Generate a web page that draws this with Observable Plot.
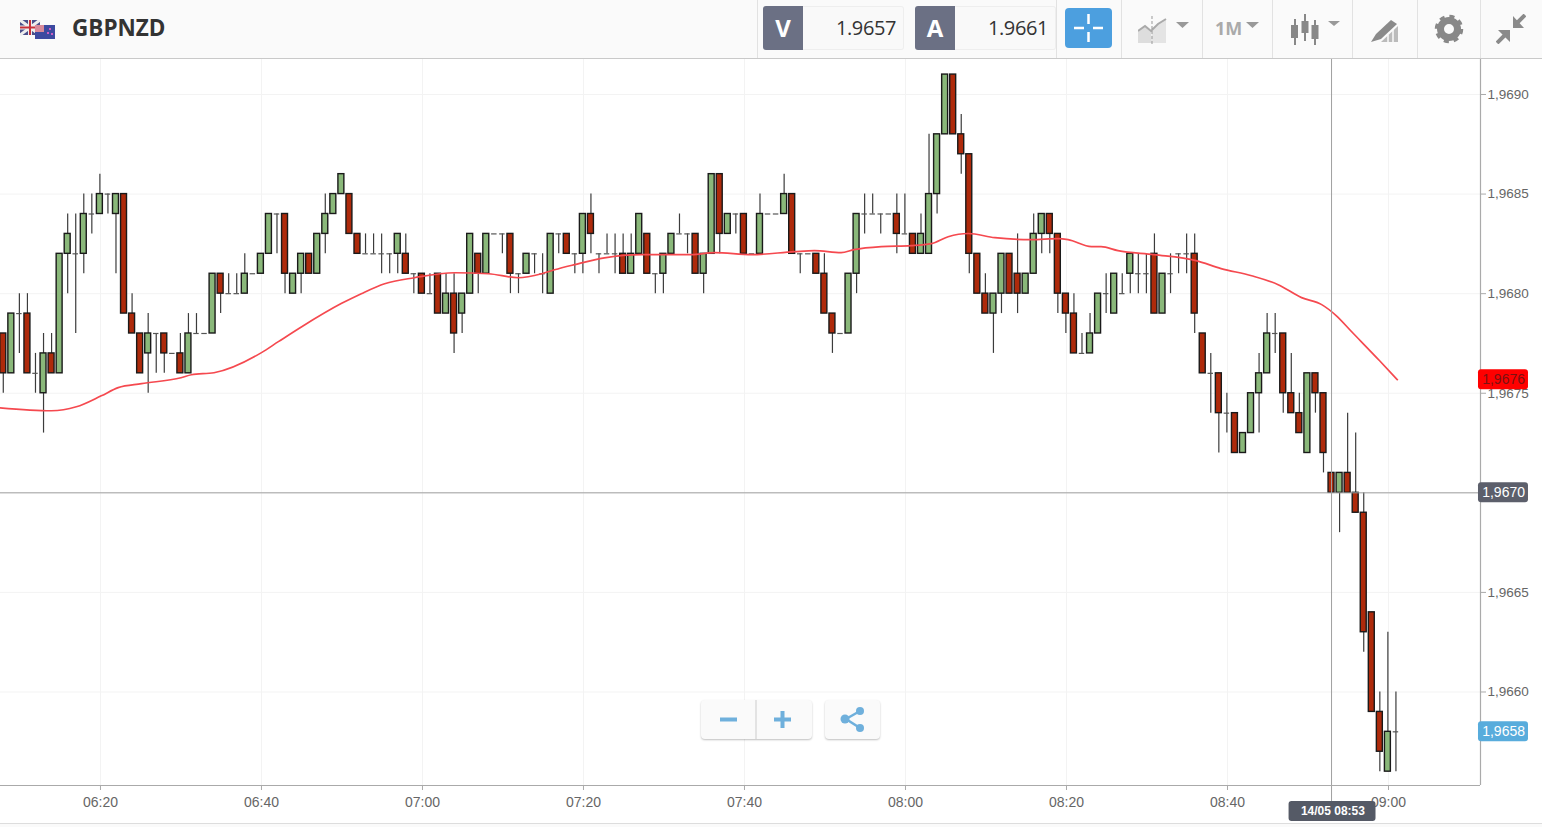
<!DOCTYPE html>
<html>
<head>
<meta charset="utf-8">
<title>GBPNZD</title>
<script src="https://cdn.jsdelivr.net/npm/d3@7"></script>
<script src="https://cdn.jsdelivr.net/npm/@observablehq/plot@0.6"></script>
<style>
html,body{margin:0;padding:0;background:#fff;overflow:hidden;width:1542px;height:827px;position:relative;font-family:"Open Sans",sans-serif}
#head{position:relative;height:58px;background:#fafafa;border-bottom:1px solid #c9c9c9;box-sizing:content-box}
#head>*{position:absolute}
#chart svg{display:block}
.sym{left:72px;top:12px;font-size:22.5px;font-weight:700;color:#333;line-height:32px}
.tag{top:6px;width:40px;height:44px;background:#6b7084;color:#fff;font-weight:700;font-size:24px;line-height:44px;text-align:center;border-radius:3px 0 0 3px}
.val{top:6px;width:100px;height:42px;background:#f9f9f9;border:1px solid #eee;border-left:0;box-sizing:content-box;color:#333;font-size:20px;letter-spacing:-.4px;line-height:42px;text-align:right;border-radius:0 3px 3px 0}
.val span{padding-right:7px}
.div{top:0;width:1px;height:58px;background:#e2e2e2}
.btn{top:8px;left:1065px;width:47px;height:40px;background:#4c9fdf;border-radius:4px}
.tf{left:1215px;top:14px;font-size:18px;font-weight:700;color:#aaa;line-height:28px}
.ovl{position:absolute;top:700px;height:39px;background:#fafafa;border-radius:4px;box-shadow:0 1px 2px rgba(0,0,0,.25)}
#foot{position:absolute;left:0;top:823px;width:1542px;height:4px;background:#fafafa;border-top:1px solid #ddd;box-sizing:border-box}
</style>
</head>
<body>
<div id="head">
  <svg style="left:20px;top:20px" width="36" height="19" viewBox="0 0 36 19">
    <rect x="0" y="0" width="20" height="15" fill="#4a4f8a"/>
    <path d="M0 0L20 15M20 0L0 15" stroke="#eee" stroke-width="3"/>
    <path d="M10 0V15M0 7.5H20" stroke="#eee" stroke-width="4"/>
    <path d="M10 0V15M0 7.5H20" stroke="#c8303a" stroke-width="2"/>
    <rect x="15" y="5" width="20" height="14" fill="#3d4aa0"/>
    <rect x="15" y="5" width="9" height="7" fill="#d98a9a"/>
    <circle cx="30" cy="9" r="1" fill="#f6c"/><circle cx="28" cy="13" r="1" fill="#f6c"/><circle cx="32" cy="14" r="1" fill="#f6c"/>
  </svg>
  <div class="sym">GBPNZD</div>
  <div class="div" style="left:757px"></div>
  <div class="tag" style="left:763px">V</div>
  <div class="val" style="left:803px"><span>1.9657</span></div>
  <div class="tag" style="left:915px">A</div>
  <div class="val" style="left:955px"><span>1.9661</span></div>
  <div class="div" style="left:1056px"></div>
  <div class="btn"><svg width="47" height="40"><path d="M9 20H19M28 20H38M23.5 6V16M23.5 24V34" stroke="#fff" stroke-width="2.5"/></svg></div>
  <div class="div" style="left:1121px"></div>
  <svg style="left:1138px;top:16px" width="52" height="28"><path d="M0 27V15L7 10L13 15L14 27Z" fill="#ddd"/><path d="M14 27V12L28 3V27Z" fill="#e4e4e4"/><path d="M0 15L7 10L13 15L20 8L28 3" fill="none" stroke="#aaa" stroke-width="2"/><path d="M14 0V28" stroke="#999" stroke-dasharray="3 2"/><path d="M38 6H51L44.500 12Z" fill="#999"/></svg>
  <div class="div" style="left:1202px"></div>
  <div class="tf">1M</div>
  <svg style="left:1246px;top:22px" width="14" height="7"><path d="M0 0H13L6.500 6Z" fill="#999"/></svg>
  <div class="div" style="left:1272px"></div>
  <svg style="left:1289px;top:14px" width="52" height="32"><path d="M6 5V31M16 0V27M26 6V31" stroke="#888" stroke-width="2"/><rect x="2" y="11" width="7" height="13" fill="#888"/><rect x="12.500" y="7" width="7" height="12" fill="#888"/><rect x="22.500" y="11" width="7" height="14" fill="#888"/><path d="M39 7H51L45 12Z" fill="#999"/></svg>
  <div class="div" style="left:1352px"></div>
  <svg style="left:1371px;top:18px" width="28" height="26"><path d="M0 24L5 16L20 2L26 6L10 21Z" fill="#8a8a8a"/><path d="M10 24L27 8V24Z" fill="#bbb"/><path d="M17 24V17M22 24V12" stroke="#fafafa" stroke-width="1.500"/></svg>
  <div class="div" style="left:1417px"></div>
  <svg style="left:1434px;top:14px" width="30" height="30"><circle cx="15" cy="15" r="8.500" fill="none" stroke="#888" stroke-width="7"/><circle cx="15" cy="15" r="12.500" fill="none" stroke="#888" stroke-width="3.500" stroke-dasharray="5 4.820"/></svg>
  <div class="div" style="left:1480px"></div>
  <svg style="left:1496px;top:14px" width="30" height="30"><path d="M29 1L19 11M1 29L11 19" stroke="#8a8a8a" stroke-width="4"/><path d="M17 2V14H28ZM14 28V16H2Z" fill="#8a8a8a"/></svg>
</div>
<div id="chart"></div>
<div class="ovl" style="left:701px;width:111px">
  <svg width="111" height="39"><rect x="19" y="17.500" width="17" height="4" fill="#6fb0dc"/><rect x="73" y="17.500" width="17" height="4" fill="#6fb0dc"/><rect x="79.500" y="11" width="4" height="17" fill="#6fb0dc"/><path d="M55 0V39" stroke="#ccc"/></svg>
</div>
<div class="ovl" style="left:825px;width:55px">
  <svg width="55" height="39"><path d="M35 11L21 19L35 28" fill="none" stroke="#6fb0dc" stroke-width="2.500"/><circle cx="20" cy="19" r="4.500" fill="#6fb0dc"/><circle cx="35" cy="11" r="4" fill="#6fb0dc"/><circle cx="35" cy="28" r="4" fill="#6fb0dc"/></svg>
</div>
<div id="foot"></div>
<script>
// Prices are given in pips above this base price
const basePrice = 1.96;
const startTime = Date.UTC(2019, 4, 14, 6, 8);

const opens = [
78,76,79,79,76,75,77,76,82,82,
82,84,84,85,84,85,79,78,77,78,
78,77,77,76,78,78,78,81,80,80,
80,81,81,82,84,84,80,81,82,81,
83,84,85,85,83,82,82,82,82,82,
82,81,81,80,81,79,80,79,80,82,
81,83,83,83,81,81,82,81,80,83,
83,82,82,84,82,82,82,82,81,82,
83,81,81,82,83,83,83,81,82,86,
83,84,84,82,82,84,84,84,85,82,
82,82,81,79,78,78,81,84,84,84,
84,84,83,83,82,82,85,88,91,88,
87,82,80,79,80,82,81,80,81,83,
84,83,80,79,77,77,78,80,79,80,
81,81,81,82,79,81,82,82,82,78,
76,76,74,74,72,73,75,76,78,78,
75,74,72,76,75,71,70,71,70,69,
64,59,56,58];
const highs = [
78,79,80,80,77,78,78,82,84,84,
85,85,86,85,85,85,80,78,79,78,
78,77,78,79,79,78,81,81,81,81,
82,81,82,84,84,84,81,82,82,83,
85,85,86,85,83,83,83,83,82,83,
83,81,81,81,81,81,81,80,83,82,
83,83,83,83,81,82,82,82,83,83,
83,82,84,85,82,83,83,83,83,84,
83,81,82,83,84,83,83,82,86,86,
84,84,84,82,85,84,84,86,85,82,
82,82,82,79,78,81,84,85,85,84,
84,85,85,83,84,88,88,91,91,89,
87,82,81,80,82,82,83,81,84,84,
84,83,80,80,78,79,80,81,81,81,
82,82,82,83,81,82,82,83,83,78,
77,76,75,74,73,75,77,79,79,78,
77,75,76,76,75,71,71,74,73,70,
64,60,63,60];
const lows = [
75,76,77,76,75,73,76,76,80,78,
81,83,84,84,81,79,78,76,75,76,
76,77,76,76,78,78,78,79,80,80,
80,81,81,82,82,80,80,80,81,81,
82,84,85,83,82,82,82,81,81,81,
81,80,80,80,79,79,77,78,80,80,
81,83,82,80,80,81,81,80,80,82,
82,81,81,82,81,82,81,81,81,82,
81,80,80,82,83,82,81,80,82,82,
83,83,82,82,82,84,84,84,82,81,
82,81,79,77,78,78,80,83,84,83,
84,82,83,82,82,82,84,88,88,86,
81,80,79,77,79,80,79,80,81,82,
82,79,78,77,77,77,78,79,79,80,
80,80,80,79,79,80,81,81,78,76,
74,72,73,72,72,73,73,76,77,74,
74,73,72,74,71,70,68,70,69,62,
59,56,56,56];
const closes = [
76,79,79,76,76,77,76,82,83,82,
84,84,85,85,85,79,78,76,78,78,
77,77,76,78,78,78,81,80,80,80,
81,81,82,84,84,81,81,82,81,83,
84,85,86,83,82,82,82,82,82,83,
81,81,80,80,79,80,78,80,83,81,
83,83,83,81,81,82,82,81,83,83,
82,82,84,83,82,82,82,81,82,84,
81,81,82,83,83,83,81,82,86,83,
84,84,82,82,84,84,84,85,82,82,
82,81,79,78,78,81,84,84,84,84,
84,83,83,82,83,85,88,91,88,87,
82,80,79,80,82,80,80,81,83,84,
83,80,79,77,77,78,80,80,81,80,
82,81,81,79,81,81,82,82,79,76,
76,74,74,72,73,75,76,78,78,75,
74,73,76,75,72,70,71,70,69,63,
59,57,58,58];

// Moving average, minutes after the first candle
const maMinutes = [-0.5,5.9,9,12.1,14.2,17.1,22,23.3,26.1,32,34.1,37,41.9,44.4,47.3,51,56,60.2,63.9,66.8,68.4,70.9,74.6,79.2,85.4,88.3,92.9,98.2,100.7,104,105.6,109,112.7,115.2,117.3,119.8,123.1,127.6,131,132.2,135.1,136.3,138.4,142.9,148.1,151.2,155,158.3,161.2,163.7,165.5,167.4,170.9,173.1];
const maPips = [74.27,74.12,74.32,74.87,75.28,75.48,75.78,75.93,76.03,77.04,77.59,78.34,79.5,80,80.5,80.8,81.05,81,80.8,81,81.2,81.46,81.8,81.96,81.96,82.06,81.96,82.11,82.16,82.06,82.21,82.36,82.41,82.51,82.86,83.02,82.81,82.71,82.76,82.71,82.36,82.36,82.16,81.96,81.66,81.26,80.9,80.45,79.8,79.45,78.9,78.1,76.63,75.68];

const timeTicks = [12,32,52,72,92,112,132,152,172];
const priceTicks = [60,65,70,75,80,85,90];
const tagPips = [75.68,70,58];
const tagLabels = ["1,9676","1,9670","1,9658"];
const tagFills = ["#ff0000","#5c5f6b","#58acdc"];
const tagInks = ["#7a1212","#ffffff","#ffffff"];
const crossMinute = 165;
const crossPips = 70;
const crossLabel = "14/05 08:53";

const price = p => basePrice + p / 10000;
const at = m => new Date(startTime + m * 60000);
const halfBody = 0.37, halfTick = 0.34;
const candleShift = -0.6;

const candles = opens.map((o, i) => ({t: i, o: price(o), h: price(highs[i]), l: price(lows[i]), c: price(closes[i]), up: closes[i] > o, flat: closes[i] === o}));
const bodies = candles.filter(d => !d.flat);
const flats = candles.filter(d => d.flat);
const ma = maMinutes.map((m, i) => ({x: at(m), y: price(maPips[i])}));
const tags = tagPips.map((p, i) => ({p: price(p), label: tagLabels[i], fill: tagFills[i], ink: tagInks[i]}));

const xDomain = [at(-0.42), at(183.43)];
const yDomain = [1.9655305, 1.9691757];
const fontFamily = '"Liberation Sans", Arial, sans-serif';

const chart = Plot.plot({
  width: 1542, height: 768,
  marginLeft: 0, marginRight: 62, marginTop: 0, marginBottom: 42,
  style: {fontFamily, background: "transparent", overflow: "visible"},
  x: {type: "utc", domain: xDomain},
  y: {domain: yDomain},
  marks: [
    Plot.ruleX(timeTicks.map(at), {stroke: "#f3f3f3"}),
    Plot.ruleY(priceTicks.map(price), {stroke: "#f3f3f3"}),
    Plot.ruleX(candles, {x: d => at(d.t), y1: "l", y2: "h", stroke: "#3c3c3c", strokeWidth: 1.2, dx: candleShift}),
    Plot.ruleY(flats, {y: "c", x1: d => at(d.t - halfTick), x2: d => at(d.t + halfTick), stroke: "#555", strokeWidth: 1.2, dx: candleShift}),
    Plot.rect(bodies, {
      x1: d => at(d.t - halfBody), x2: d => at(d.t + halfBody),
      y1: "o", y2: "c",
      fill: d => d.up ? "#8ab87a" : "#ae2a0b",
      stroke: "#1a1a1a", strokeWidth: 1.4, dx: candleShift
    }),
    Plot.line(ma, {x: "x", y: "y", stroke: "#f5494f", strokeWidth: 1.7, curve: "monotone-x"}),
    Plot.ruleY([price(crossPips)], {stroke: "#a0a0a0"}),
    Plot.ruleX([at(crossMinute)], {y1: yDomain[1], y2: price(54), stroke: "#a0a0a0", dx: -0.6}),
    Plot.ruleX([xDomain[1]], {stroke: "#aaa", strokeWidth: 1.2}),
    Plot.ruleY([yDomain[0]], {stroke: "#aaa", strokeWidth: 1.2}),
    Plot.axisX({ticks: timeTicks.map(at), tickFormat: d3.utcFormat("%H:%M"), tickSize: 5, tickPadding: 7, fontSize: 14, stroke: "#aaa", fill: "#666", label: null}),
    Plot.axisY({anchor: "right", ticks: priceTicks.filter(p => p !== crossPips).map(price), tickFormat: d => d.toFixed(4).replace(".", ","), tickSize: 5, tickPadding: 2, fontSize: 13.5, stroke: "#aaa", fill: "#666", label: null}),
    Plot.rect(tags, {x1: at(183.18), x2: at(189.39), y1: d => d.p - 0.00005, y2: d => d.p + 0.00005, fill: "fill", rx: 3}),
    Plot.text(tags, {x: at(186.3), y: "p", text: "label", fill: "ink", fontSize: 14}),
    Plot.rect([crossLabel], {x1: at(crossMinute - 5.35), x2: at(crossMinute + 5.45), y1: price(53.5), y2: price(54.5), fill: "#555a66", rx: 3}),
    Plot.text([crossLabel], {x: at(crossMinute + 0.1), y: price(54), text: d => d, fill: "#fff", fontSize: 12, fontWeight: 700})
  ]
});
document.getElementById("chart").appendChild(chart);
</script>
</body>
</html>
